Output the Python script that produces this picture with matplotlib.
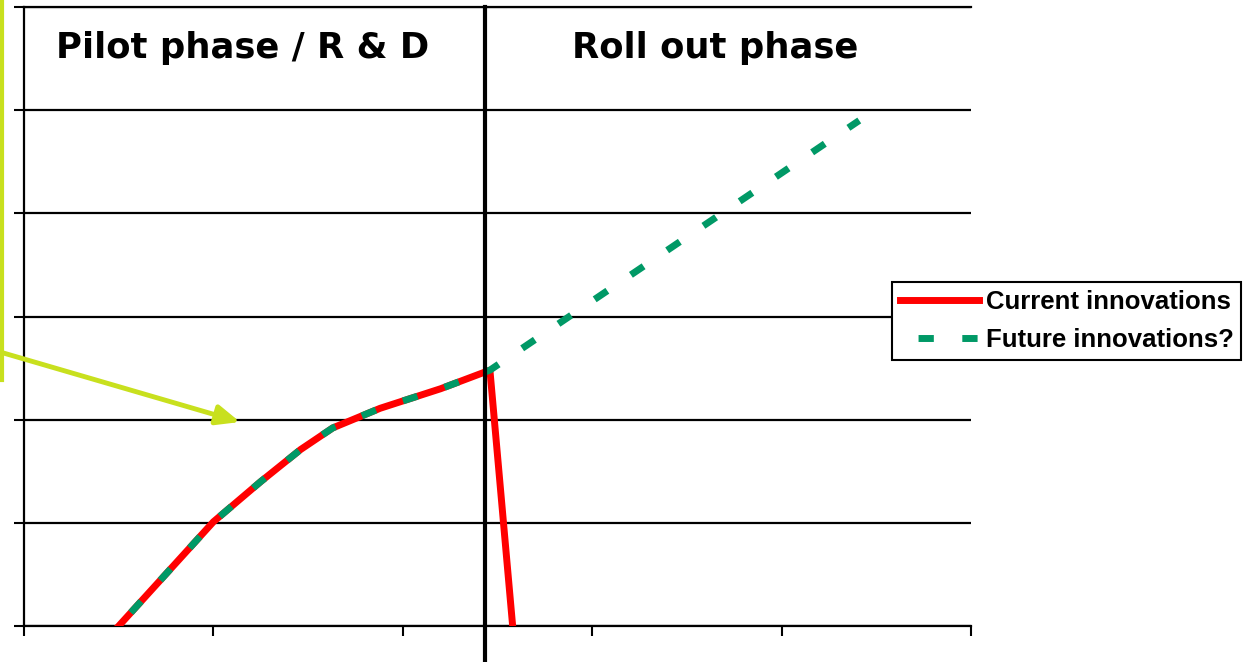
import matplotlib
matplotlib.use("Agg")
import matplotlib.pyplot as plt

# data (x in tick units, y in gridline units)
current_x = [0.50, 1.00, 1.25, 1.46, 1.63, 1.88, 2.20, 2.46, 2.58]
current_y = [0.00, 1.01, 1.40, 1.71, 1.92, 2.11, 2.30, 2.48, 0.00]
future_x = [0.50, 1.00, 1.25, 1.46, 1.63, 1.88, 2.20, 2.46, 4.41]
future_y = [0.00, 1.01, 1.40, 1.71, 1.92, 2.11, 2.30, 2.48, 4.90]
phase_split = 2.434
phase_labels = ["Pilot phase / R & D", "Roll out phase"]
phase_label_x = [1.156, 3.648]
series_names = ["Current innovations", "Future innovations?"]

W, H = 1247, 662
fig = plt.figure(figsize=(W / 100, H / 100), dpi=100)
ax = fig.add_axes([24 / W, 36 / H, (971 - 24) / W, (626 - 7) / H])

red = "#ff0000"
green = "#009966"
lime = "#c8e01e"

ax.plot(current_x, current_y, color=red, lw=5, solid_joinstyle="round",
        label=series_names[0], zorder=3)
ax.plot(future_x, future_y, color=green, lw=5, linestyle=(3.7, (2.2, 4.1)),
        label=series_names[1], zorder=4)

ax.set_xlim(0, 5)
ax.set_ylim(0, 6)
ax.set_xticks(range(0, 6))
ax.set_yticks(range(0, 7))
ax.set_xticklabels([])
ax.set_yticklabels([])
ax.tick_params(direction="out", length=7, width=1.5, color="black")
ax.yaxis.grid(True, color="black", lw=1.6)
ax.set_axisbelow(True)
for s in ["top", "right"]:
    ax.spines[s].set_visible(False)
for s in ["left", "bottom"]:
    ax.spines[s].set_linewidth(1.6)
# top gridline drawn explicitly so it is not clipped
ax.axhline(6, color="black", lw=1.6, clip_on=False)

# phase divider
ax.axvline(phase_split, ymin=-0.06, ymax=1.0, color="black", lw=3, clip_on=False, zorder=5)

for lab, xx in zip(phase_labels, phase_label_x):
    ax.text(xx, 5.6, lab, ha="center", va="center", fontsize=25.5,
            fontweight="bold", family="DejaVu Sans")

leg = fig.legend(loc="center left", bbox_to_anchor=(892 / W, 1 - 321 / H),
                 frameon=True, fancybox=False, framealpha=1, edgecolor="black",
                 handlelength=3.1, handletextpad=0.25, borderpad=0.3,
                 labelspacing=0.55, borderaxespad=0,
                 prop={"family": "Liberation Sans", "weight": "bold", "size": 18.5})
leg.get_frame().set_linewidth(1.5)

# callout remnant on the left edge
fig.add_artist(plt.Line2D([2 / W, 2 / W], [1, 1 - 380 / H], color=lime, lw=3,
                          transform=fig.transFigure))
ax.annotate("", xy=(240 / W, 1 - 422 / H), xytext=(0, 1 - 352 / H),
            xycoords="figure fraction", textcoords="figure fraction",
            arrowprops=dict(arrowstyle="-|>,head_length=1.4,head_width=0.6",
                            color=lime, lw=3.5, shrinkA=0, shrinkB=0))

fig.savefig("out.png", dpi=100)
